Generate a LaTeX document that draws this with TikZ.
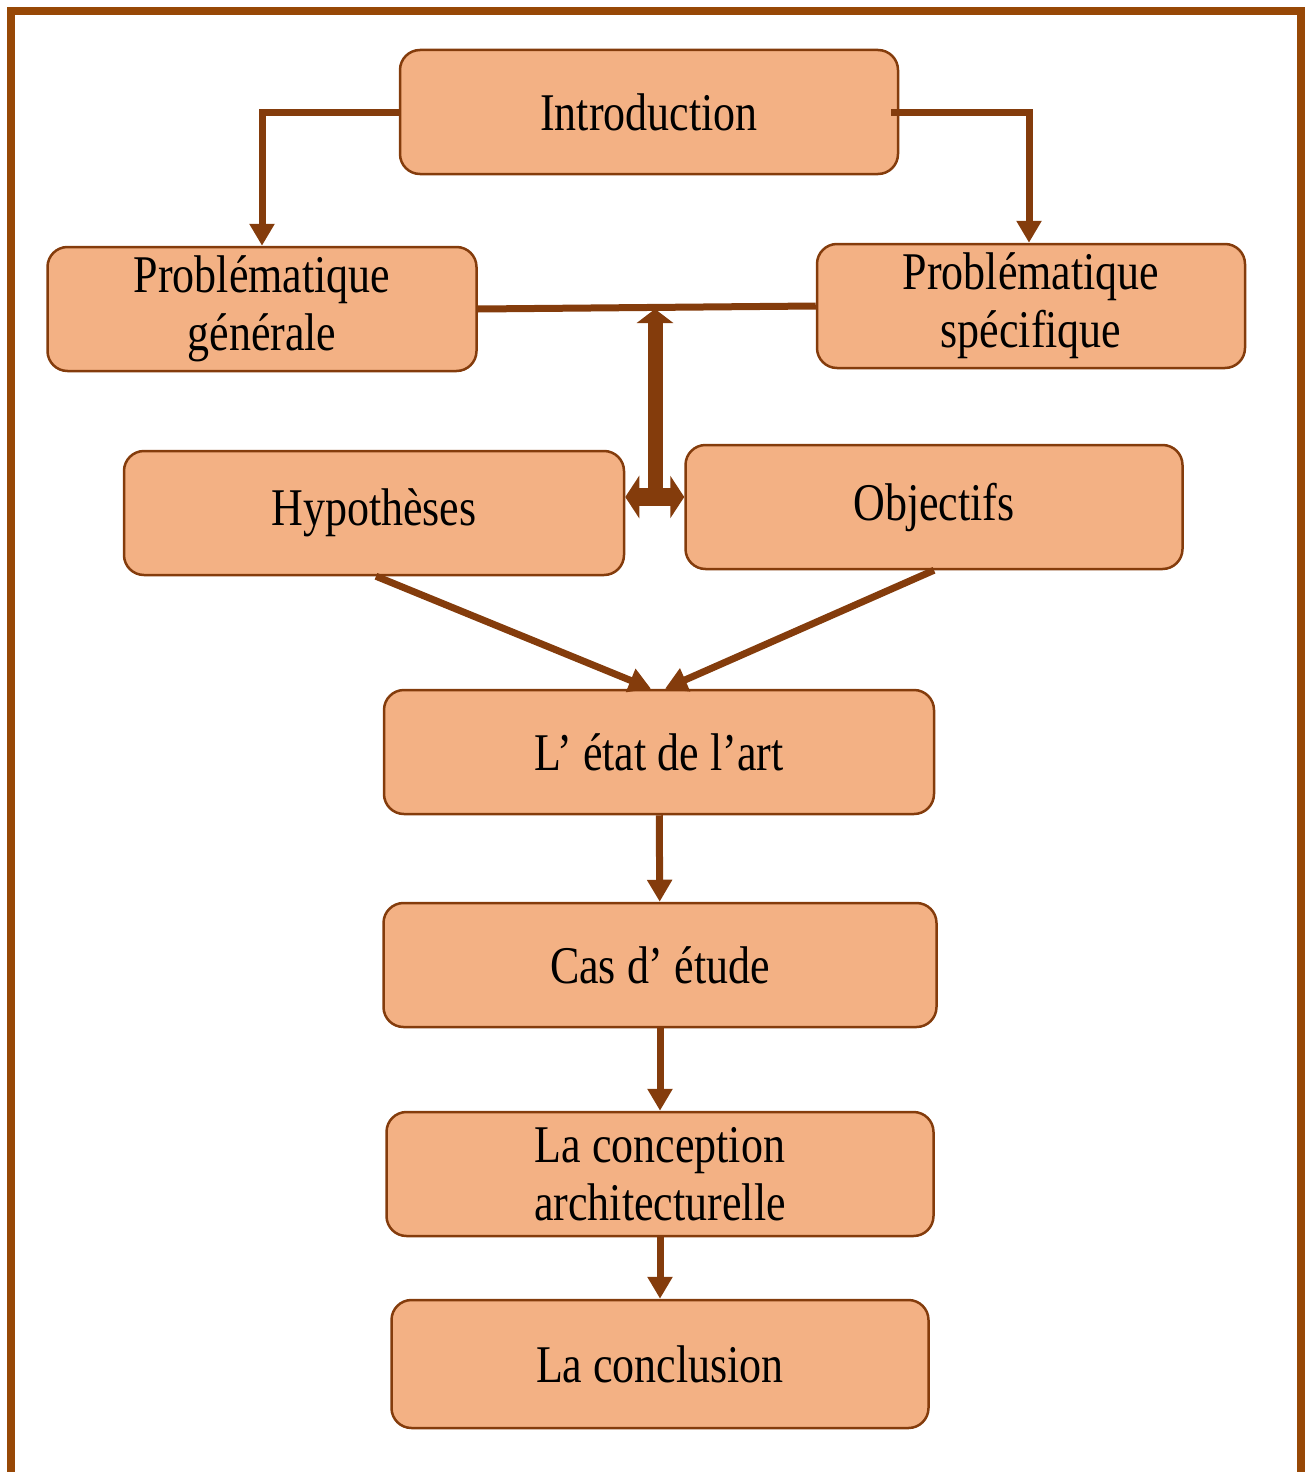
\documentclass[tikz,border=0pt]{standalone}
\usepackage{fontspec}
\setmainfont[FakeStretch=0.83]{Liberation Serif}
\usetikzlibrary{arrows.meta}
\definecolor{cadre}{RGB}{151,72,6}
\definecolor{brun}{RGB}{132,60,12}
\definecolor{saumon}{RGB}{243,177,132}
\tikzset{
  etape/.style={draw=brun, fill=saumon, line width=2.5pt, rounded corners=20pt,
    align=center, inner sep=0pt, minimum height=124pt,
    font=\fontsize{53}{58}\selectfont},
  fleche/.style={draw=brun, line width=7pt, -{Triangle[length=22pt,width=24pt]}},
  tige/.style={draw=brun, line width=15pt},
}
\begin{document}
\begin{tikzpicture}[x=1pt,y=-1pt]
    \useasboundingbox (0,0) rectangle (1306,1472);
    \draw[cadre, line width=8pt] (11,1490) -- (11,11) -- (1301,11) -- (1301,1490);

    \node[etape, minimum width=498pt] (intro) at (649,112) {Introduction};
    \node[etape, minimum width=429pt] (probG) at (262,309) {Problématique\\générale};
    \node[etape, minimum width=428pt] (probS) at (1031,306) {Problématique\\spécifique};
    \node[etape, minimum width=500pt] (hyp) at (374,513) {Hypothèses};
    \node[etape, minimum width=497pt] (obj) at (934,507) {Objectifs};
    \node[etape, minimum width=550pt] (etat) at (659,752) {L’ état de l’art};
    \node[etape, minimum width=553pt] (cas) at (660,965) {Cas d’ étude};
    \node[etape, minimum width=547pt] (concep) at (660,1174) {La conception\\architecturelle};
    \node[etape, minimum width=537pt, minimum height=128pt] (concl) at (660,1364) {La conclusion};

    \draw[fleche] (intro.west) -| (probG.north);
    \draw[fleche] ([xshift=-8pt]intro.east) -| ([xshift=-2pt]probS.north);
    \draw[brun, line width=7pt] (probG.east) -- (probS.west);

    \coordinate (haut) at (655,309);
    \coordinate (bas) at (655,497);
    \draw[tige, -{Triangle[length=14pt,width=36pt]}] (bas) -- (haut);
    \draw[tige, line width=18pt, {Triangle[length=14pt,width=42pt]}-{Triangle[length=14pt,width=42pt]}]
        (hyp.east |- bas) -- (obj.west |- bas);

    \draw[fleche] ([xshift=2pt]hyp.south) -- ([xshift=-8pt]etat.north);
    \draw[fleche] (obj.south) -- ([xshift=6pt]etat.north);
    \draw[fleche] (etat) -- (cas);
    \draw[fleche] (cas) -- (concep);
    \draw[fleche] (concep) -- (concl);
\end{tikzpicture}
\end{document}
